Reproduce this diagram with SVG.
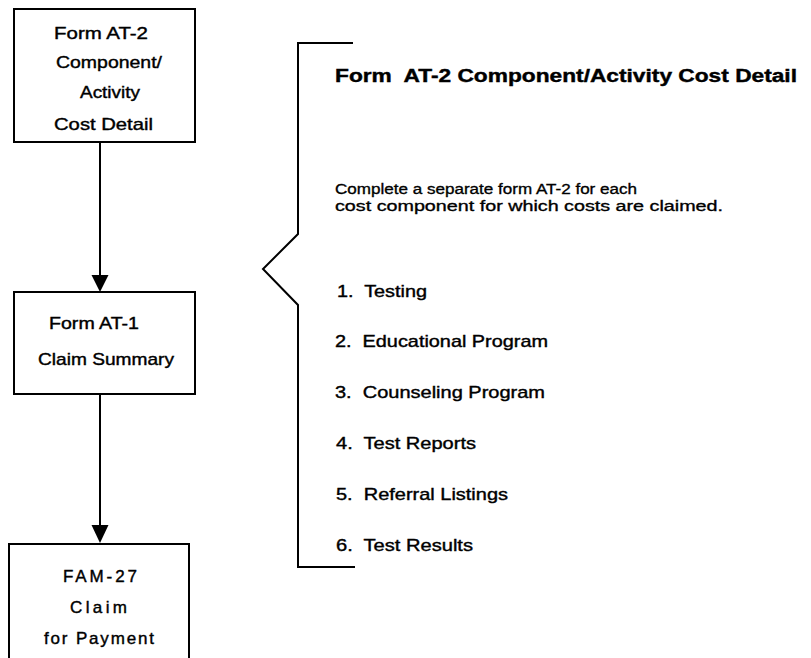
<svg xmlns="http://www.w3.org/2000/svg" width="811" height="658" viewBox="0 0 811 658">
  <style>
    .box { fill: #ffffff; stroke: #000000; stroke-width: 2; }
    .wire { fill: none; stroke: #000000; stroke-width: 2; }
    .head { fill: #000000; stroke: none; }
    text { white-space: pre; }
    .t { font-family: "Liberation Sans", Arial, sans-serif; font-size: 17px; fill: #000000; stroke: #000000; stroke-width: 0.4; }
    .s { font-family: "Liberation Sans", Arial, sans-serif; font-size: 15.5px; fill: #000000; stroke: #000000; stroke-width: 0.35; }
    .h { font-family: "Liberation Sans", Arial, sans-serif; font-size: 18px; font-weight: bold; fill: #000000; stroke: #000000; stroke-width: 0.4; }
  </style>
  <rect width="811" height="658" fill="#ffffff"/>

  <!-- connectors between the forms -->
  <g id="connectors">
    <line class="wire" x1="100" y1="142" x2="100" y2="277"/>
    <polygon class="head" points="91.5,275 108.5,275 100,292"/>
    <line class="wire" x1="100" y1="394" x2="100" y2="527"/>
    <polygon class="head" points="91.5,525 108.5,525 100,543"/>
  </g>

  <g id="node-at2">
    <rect class="box" x="14" y="9" width="181" height="133"/>
    <text class="t" x="54" y="39" textLength="94" lengthAdjust="spacingAndGlyphs">Form AT-2</text>
    <text class="t" x="56" y="68" textLength="106" lengthAdjust="spacingAndGlyphs">Component/</text>
    <text class="t" x="80" y="98" textLength="60" lengthAdjust="spacingAndGlyphs">Activity</text>
    <text class="t" x="54" y="130" textLength="99" lengthAdjust="spacingAndGlyphs">Cost Detail</text>
  </g>

  <g id="node-at1">
    <rect class="box" x="14" y="292" width="181" height="102"/>
    <text class="t" x="49" y="329" textLength="90" lengthAdjust="spacingAndGlyphs">Form AT-1</text>
    <text class="t" x="38" y="365" textLength="136" lengthAdjust="spacingAndGlyphs">Claim Summary</text>
  </g>

  <g id="node-fam27">
    <rect class="box" x="9" y="544" width="180" height="130"/>
    <text class="t" x="63" y="582" textLength="74" lengthAdjust="spacing">FAM-27</text>
    <text class="t" x="70" y="613" textLength="57" lengthAdjust="spacing">Claim</text>
    <text class="t" x="44" y="644" textLength="110" lengthAdjust="spacing">for Payment</text>
  </g>

  <!-- brace grouping the AT-2 detail notes -->
  <g id="detail-brace">
    <path class="wire" d="M353,43 H298 V234 L263,269 L298,305 V567 H355"/>
  </g>

  <g id="detail-notes">
    <text class="h" x="335" y="82" textLength="462" lengthAdjust="spacingAndGlyphs">Form  AT-2 Component/Activity Cost Detail</text>
    <text class="s" x="335" y="194" textLength="302" lengthAdjust="spacingAndGlyphs">Complete a separate form AT-2 for each</text>
    <text class="s" x="335" y="211" textLength="388" lengthAdjust="spacingAndGlyphs">cost component for which costs are claimed.</text>
    <text class="t" x="337" y="297" textLength="90" lengthAdjust="spacingAndGlyphs">1.  Testing</text>
    <text class="t" x="335" y="347" textLength="213" lengthAdjust="spacingAndGlyphs">2.  Educational Program</text>
    <text class="t" x="335" y="398" textLength="210" lengthAdjust="spacingAndGlyphs">3.  Counseling Program</text>
    <text class="t" x="336" y="449" textLength="140" lengthAdjust="spacingAndGlyphs">4.  Test Reports</text>
    <text class="t" x="336" y="500" textLength="172" lengthAdjust="spacingAndGlyphs">5.  Referral Listings</text>
    <text class="t" x="336" y="551" textLength="137" lengthAdjust="spacingAndGlyphs">6.  Test Results</text>
  </g>
</svg>
